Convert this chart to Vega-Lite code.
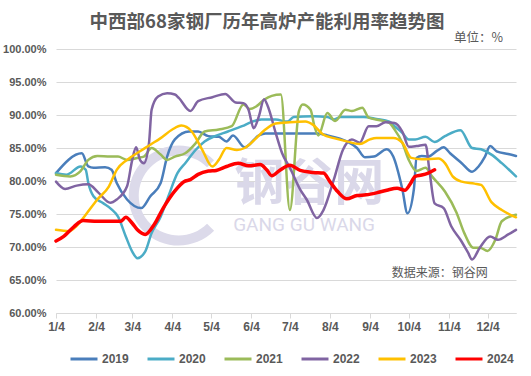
{
  "$schema": "https://vega.github.io/schema/vega-lite/v6.json",
  "width": 460,
  "height": 264,
  "autosize": {"type": "none"},
  "padding": {"left": 56, "top": 49, "right": 15, "bottom": 63},
  "background": "white",
  "title": {"text": "中西部68家钢厂历年高炉产能利用率趋势图", "font": "Noto Sans CJK SC", "fontSize": 18.5, "fontWeight": "bold", "color": "#595959", "anchor": "middle", "dx": -19, "offset": 0},
  "config": {
    "view": {"stroke": null},
    "font": "Liberation Sans",
    "axisX": {"grid": false, "domainColor": "#D9D9D9", "tickColor": "#D9D9D9", "tickSize": 5, "labelFont": "Liberation Sans", "labelFontSize": 12, "labelFontWeight": "bold", "labelColor": "#595959", "labelPadding": 3, "labelFlush": false, "labelOverlap": false, "labelAlign": "center"},
    "axisY": {"ticks": false, "domain": false, "grid": true, "gridColor": "#D9D9D9", "gridWidth": 1, "labelFont": "Liberation Sans", "labelFontSize": 11, "labelFontWeight": "bold", "labelColor": "#595959", "labelPadding": 10, "labelOverlap": false}
  },
  "data": {
    "values": [
      {"year":"2019","date":"01/04","value":81.2},{"year":"2019","date":"01/24","value":84.2},{"year":"2019","date":"01/29","value":82.2},{"year":"2019","date":"02/02","value":82.0},{"year":"2019","date":"02/11","value":82.1},{"year":"2019","date":"02/16","value":81.7},{"year":"2019","date":"02/20","value":79.7},{"year":"2019","date":"02/28","value":77.2},{"year":"2019","date":"03/11","value":75.9},{"year":"2019","date":"03/18","value":77.7},{"year":"2019","date":"03/26","value":79.7},{"year":"2019","date":"03/31","value":83.7},{"year":"2019","date":"04/06","value":86.3},{"year":"2019","date":"04/17","value":87.5},{"year":"2019","date":"04/24","value":87.5},{"year":"2019","date":"05/02","value":86.8},{"year":"2019","date":"05/10","value":86.7},{"year":"2019","date":"05/16","value":86.0},{"year":"2019","date":"05/21","value":86.9},{"year":"2019","date":"05/30","value":85.1},{"year":"2019","date":"06/10","value":86.9},{"year":"2019","date":"06/15","value":87.2},{"year":"2019","date":"07/04","value":87.2},{"year":"2019","date":"07/25","value":87.2},{"year":"2019","date":"08/02","value":86.9},{"year":"2019","date":"08/17","value":86.0},{"year":"2019","date":"08/25","value":85.0},{"year":"2019","date":"08/31","value":83.6},{"year":"2019","date":"09/07","value":83.7},{"year":"2019","date":"09/17","value":84.8},{"year":"2019","date":"09/22","value":83.7},{"year":"2019","date":"09/29","value":78.8},{"year":"2019","date":"10/03","value":75.1},{"year":"2019","date":"10/08","value":78.8},{"year":"2019","date":"10/10","value":83.5},{"year":"2019","date":"10/14","value":83.8},{"year":"2019","date":"10/19","value":83.7},{"year":"2019","date":"10/26","value":84.6},{"year":"2019","date":"10/31","value":85.1},{"year":"2019","date":"11/05","value":84.2},{"year":"2019","date":"11/14","value":82.7},{"year":"2019","date":"11/22","value":81.4},{"year":"2019","date":"11/27","value":82.2},{"year":"2019","date":"12/02","value":83.7},{"year":"2019","date":"12/06","value":85.3},{"year":"2019","date":"12/11","value":84.5},{"year":"2019","date":"12/20","value":84.1},{"year":"2019","date":"12/26","value":83.8},
      {"year":"2020","date":"01/04","value":81.2},{"year":"2020","date":"01/12","value":80.95},{"year":"2020","date":"01/23","value":82.2},{"year":"2020","date":"01/27","value":81.7},{"year":"2020","date":"01/29","value":79.7},{"year":"2020","date":"02/02","value":77.7},{"year":"2020","date":"02/09","value":76.7},{"year":"2020","date":"02/16","value":75.7},{"year":"2020","date":"02/21","value":74.6},{"year":"2020","date":"02/27","value":71.6},{"year":"2020","date":"03/04","value":69.3},{"year":"2020","date":"03/08","value":68.3},{"year":"2020","date":"03/14","value":69.3},{"year":"2020","date":"03/19","value":72.1},{"year":"2020","date":"03/26","value":74.6},{"year":"2020","date":"04/01","value":77.7},{"year":"2020","date":"04/08","value":81.2},{"year":"2020","date":"04/14","value":82.7},{"year":"2020","date":"04/22","value":84.7},{"year":"2020","date":"04/29","value":86.0},{"year":"2020","date":"05/07","value":86.8},{"year":"2020","date":"05/17","value":87.5},{"year":"2020","date":"05/28","value":88.3},{"year":"2020","date":"06/05","value":89.0},{"year":"2020","date":"06/12","value":89.3},{"year":"2020","date":"06/23","value":89.3},{"year":"2020","date":"07/02","value":89.0},{"year":"2020","date":"07/07","value":89.7},{"year":"2020","date":"07/22","value":89.8},{"year":"2020","date":"08/02","value":89.7},{"year":"2020","date":"08/07","value":89.3},{"year":"2020","date":"08/12","value":89.7},{"year":"2020","date":"08/30","value":89.7},{"year":"2020","date":"09/09","value":89.4},{"year":"2020","date":"09/19","value":89.0},{"year":"2020","date":"09/23","value":88.3},{"year":"2020","date":"09/29","value":87.3},{"year":"2020","date":"10/04","value":86.3},{"year":"2020","date":"10/09","value":86.3},{"year":"2020","date":"10/17","value":86.7},{"year":"2020","date":"10/24","value":85.9},{"year":"2020","date":"11/01","value":86.8},{"year":"2020","date":"11/13","value":87.7},{"year":"2020","date":"11/22","value":85.0},{"year":"2020","date":"11/29","value":84.8},{"year":"2020","date":"12/07","value":84.0},{"year":"2020","date":"12/15","value":82.7},{"year":"2020","date":"12/26","value":80.7},
      {"year":"2021","date":"01/04","value":80.95},{"year":"2021","date":"01/15","value":80.7},{"year":"2021","date":"01/23","value":81.5},{"year":"2021","date":"01/29","value":83.2},{"year":"2021","date":"02/05","value":83.8},{"year":"2021","date":"02/15","value":83.7},{"year":"2021","date":"02/21","value":83.7},{"year":"2021","date":"02/28","value":83.2},{"year":"2021","date":"03/08","value":83.5},{"year":"2021","date":"03/13","value":83.7},{"year":"2021","date":"03/19","value":85.0},{"year":"2021","date":"03/26","value":84.0},{"year":"2021","date":"03/31","value":83.2},{"year":"2021","date":"04/06","value":83.7},{"year":"2021","date":"04/14","value":84.2},{"year":"2021","date":"04/22","value":85.7},{"year":"2021","date":"04/29","value":87.5},{"year":"2021","date":"05/10","value":87.8},{"year":"2021","date":"05/20","value":88.3},{"year":"2021","date":"05/29","value":91.6},{"year":"2021","date":"06/03","value":90.9},{"year":"2021","date":"06/08","value":91.3},{"year":"2021","date":"06/14","value":92.3},{"year":"2021","date":"06/20","value":92.9},{"year":"2021","date":"06/27","value":93.1},{"year":"2021","date":"07/04","value":75.6},{"year":"2021","date":"07/11","value":90.6},{"year":"2021","date":"07/14","value":91.6},{"year":"2021","date":"07/20","value":90.8},{"year":"2021","date":"07/23","value":88.3},{"year":"2021","date":"07/26","value":86.9},{"year":"2021","date":"08/02","value":90.3},{"year":"2021","date":"08/08","value":89.1},{"year":"2021","date":"08/16","value":90.8},{"year":"2021","date":"08/21","value":90.6},{"year":"2021","date":"08/29","value":91.1},{"year":"2021","date":"09/03","value":89.6},{"year":"2021","date":"09/12","value":89.2},{"year":"2021","date":"09/19","value":88.8},{"year":"2021","date":"09/23","value":87.8},{"year":"2021","date":"09/29","value":85.8},{"year":"2021","date":"10/04","value":83.2},{"year":"2021","date":"10/10","value":81.5},{"year":"2021","date":"10/17","value":82.0},{"year":"2021","date":"10/22","value":80.7},{"year":"2021","date":"11/01","value":78.4},{"year":"2021","date":"11/10","value":75.2},{"year":"2021","date":"11/16","value":72.1},{"year":"2021","date":"11/23","value":69.9},{"year":"2021","date":"11/28","value":69.9},{"year":"2021","date":"12/04","value":69.4},{"year":"2021","date":"12/10","value":71.1},{"year":"2021","date":"12/15","value":73.9},{"year":"2021","date":"12/26","value":74.9},
      {"year":"2022","date":"01/04","value":79.9},{"year":"2022","date":"01/11","value":78.8},{"year":"2022","date":"01/20","value":79.3},{"year":"2022","date":"01/29","value":79.5},{"year":"2022","date":"02/06","value":78.2},{"year":"2022","date":"02/15","value":76.7},{"year":"2022","date":"02/20","value":77.2},{"year":"2022","date":"02/28","value":79.2},{"year":"2022","date":"03/04","value":83.2},{"year":"2022","date":"03/07","value":85.1},{"year":"2022","date":"03/10","value":83.2},{"year":"2022","date":"03/13","value":82.7},{"year":"2022","date":"03/17","value":85.8},{"year":"2022","date":"03/19","value":90.8},{"year":"2022","date":"03/24","value":92.8},{"year":"2022","date":"03/31","value":93.3},{"year":"2022","date":"04/06","value":93.1},{"year":"2022","date":"04/09","value":92.6},{"year":"2022","date":"04/18","value":90.6},{"year":"2022","date":"04/24","value":92.1},{"year":"2022","date":"05/05","value":92.7},{"year":"2022","date":"05/15","value":93.2},{"year":"2022","date":"05/23","value":91.9},{"year":"2022","date":"05/29","value":91.8},{"year":"2022","date":"06/02","value":90.8},{"year":"2022","date":"06/06","value":88.0},{"year":"2022","date":"06/10","value":89.8},{"year":"2022","date":"06/14","value":92.4},{"year":"2022","date":"06/17","value":91.3},{"year":"2022","date":"06/23","value":87.3},{"year":"2022","date":"06/28","value":84.2},{"year":"2022","date":"07/04","value":82.0},{"year":"2022","date":"07/12","value":78.7},{"year":"2022","date":"07/17","value":77.2},{"year":"2022","date":"07/25","value":74.4},{"year":"2022","date":"07/30","value":75.6},{"year":"2022","date":"08/07","value":80.2},{"year":"2022","date":"08/14","value":84.7},{"year":"2022","date":"08/21","value":86.3},{"year":"2022","date":"08/27","value":85.8},{"year":"2022","date":"09/03","value":88.3},{"year":"2022","date":"09/09","value":88.3},{"year":"2022","date":"09/16","value":88.9},{"year":"2022","date":"09/23","value":88.8},{"year":"2022","date":"09/29","value":87.5},{"year":"2022","date":"10/04","value":85.2},{"year":"2022","date":"10/10","value":85.3},{"year":"2022","date":"10/17","value":85.5},{"year":"2022","date":"10/20","value":81.6},{"year":"2022","date":"10/24","value":76.6},{"year":"2022","date":"10/31","value":75.9},{"year":"2022","date":"11/06","value":73.1},{"year":"2022","date":"11/13","value":71.1},{"year":"2022","date":"11/19","value":69.1},{"year":"2022","date":"11/22","value":68.1},{"year":"2022","date":"11/28","value":69.9},{"year":"2022","date":"12/06","value":71.6},{"year":"2022","date":"12/12","value":71.1},{"year":"2022","date":"12/20","value":71.9},{"year":"2022","date":"12/26","value":72.6},
      {"year":"2023","date":"01/04","value":72.6},{"year":"2023","date":"01/14","value":72.4},{"year":"2023","date":"01/20","value":73.2},{"year":"2023","date":"01/27","value":74.9},{"year":"2023","date":"02/05","value":77.2},{"year":"2023","date":"02/14","value":79.2},{"year":"2023","date":"02/20","value":81.7},{"year":"2023","date":"02/28","value":83.2},{"year":"2023","date":"03/10","value":84.5},{"year":"2023","date":"03/18","value":85.5},{"year":"2023","date":"03/26","value":86.5},{"year":"2023","date":"04/04","value":87.8},{"year":"2023","date":"04/11","value":88.4},{"year":"2023","date":"04/19","value":87.5},{"year":"2023","date":"04/27","value":84.8},{"year":"2023","date":"05/05","value":82.2},{"year":"2023","date":"05/10","value":83.2},{"year":"2023","date":"05/16","value":85.0},{"year":"2023","date":"05/24","value":84.7},{"year":"2023","date":"05/30","value":85.0},{"year":"2023","date":"06/07","value":86.3},{"year":"2023","date":"06/15","value":87.8},{"year":"2023","date":"06/23","value":88.7},{"year":"2023","date":"07/04","value":88.9},{"year":"2023","date":"07/16","value":89.0},{"year":"2023","date":"07/22","value":88.5},{"year":"2023","date":"07/30","value":87.0},{"year":"2023","date":"08/07","value":86.5},{"year":"2023","date":"08/17","value":86.0},{"year":"2023","date":"08/27","value":85.6},{"year":"2023","date":"09/04","value":86.3},{"year":"2023","date":"09/09","value":86.5},{"year":"2023","date":"09/22","value":86.5},{"year":"2023","date":"09/29","value":85.8},{"year":"2023","date":"10/06","value":83.5},{"year":"2023","date":"10/14","value":83.3},{"year":"2023","date":"10/27","value":83.4},{"year":"2023","date":"11/01","value":82.7},{"year":"2023","date":"11/07","value":80.7},{"year":"2023","date":"11/14","value":79.9},{"year":"2023","date":"11/24","value":79.6},{"year":"2023","date":"11/29","value":79.4},{"year":"2023","date":"12/07","value":76.8},{"year":"2023","date":"12/15","value":75.6},{"year":"2023","date":"12/26","value":74.5},
      {"year":"2024","date":"01/04","value":70.9},{"year":"2024","date":"01/10","value":71.6},{"year":"2024","date":"01/18","value":73.1},{"year":"2024","date":"01/25","value":74.0},{"year":"2024","date":"02/05","value":73.9},{"year":"2024","date":"02/15","value":73.9},{"year":"2024","date":"02/23","value":73.9},{"year":"2024","date":"02/27","value":74.5},{"year":"2024","date":"03/04","value":73.6},{"year":"2024","date":"03/08","value":72.6},{"year":"2024","date":"03/14","value":71.9},{"year":"2024","date":"03/21","value":73.4},{"year":"2024","date":"03/28","value":75.9},{"year":"2024","date":"04/06","value":78.5},{"year":"2024","date":"04/13","value":79.9},{"year":"2024","date":"04/18","value":80.2},{"year":"2024","date":"04/24","value":81.0},{"year":"2024","date":"05/02","value":81.5},{"year":"2024","date":"05/08","value":81.6},{"year":"2024","date":"05/16","value":82.2},{"year":"2024","date":"05/25","value":82.7},{"year":"2024","date":"06/02","value":82.3},{"year":"2024","date":"06/11","value":82.5},{"year":"2024","date":"06/16","value":81.7},{"year":"2024","date":"06/20","value":80.8},{"year":"2024","date":"06/26","value":81.6},{"year":"2024","date":"07/04","value":82.4},{"year":"2024","date":"07/12","value":81.6},{"year":"2024","date":"07/22","value":81.3},{"year":"2024","date":"07/30","value":81.2},{"year":"2024","date":"08/04","value":79.9},{"year":"2024","date":"08/10","value":78.4},{"year":"2024","date":"08/17","value":77.3},{"year":"2024","date":"08/25","value":77.8},{"year":"2024","date":"09/01","value":77.9},{"year":"2024","date":"09/09","value":78.2},{"year":"2024","date":"09/17","value":78.6},{"year":"2024","date":"09/25","value":78.9},{"year":"2024","date":"10/01","value":78.6},{"year":"2024","date":"10/05","value":79.5},{"year":"2024","date":"10/09","value":80.7},{"year":"2024","date":"10/14","value":80.9},{"year":"2024","date":"10/19","value":81.2},{"year":"2024","date":"10/24","value":81.7}
    ],
    "format": {"parse": {"date": "date:'%m/%d'"}}
  },
  "layer": [
    {
      "data": {"values": [{}]},
      "mark": {"type": "point", "shape": "M 0.707,-0.707 A 1,1 0 1,0 0.707,0.707 L 0.566,0.566 A 0.8,0.8 0 1,1 0.566,-0.566 Z", "filled": true, "color": "#DCDAEA", "opacity": 1, "size": 10000, "strokeWidth": 0},
      "encoding": {
        "x": {"datum": {"year": 1900, "month": 4, "date": 9}, "type": "temporal", "scale": {"domain": [{"year": 1900, "month": 1, "date": 4}, {"year": 1900, "month": 12, "date": 26}]}, "axis": {"values": [{"year":1900,"month":1,"date":4},{"year":1900,"month":2,"date":4},{"year":1900,"month":3,"date":4},{"year":1900,"month":4,"date":4},{"year":1900,"month":5,"date":4},{"year":1900,"month":6,"date":4},{"year":1900,"month":7,"date":4},{"year":1900,"month":8,"date":4},{"year":1900,"month":9,"date":4},{"year":1900,"month":10,"date":4},{"year":1900,"month":11,"date":4},{"year":1900,"month":12,"date":4}], "format": "%-m/%-d", "title": null}},
        "y": {"datum": 77.8, "type": "quantitative", "scale": {"domain": [60, 100]}, "axis": {"values": [60, 65, 70, 75, 80, 85, 90, 95, 100], "labelExpr": "format(datum.value, '.2f') + '%'", "title": null}}
      }
    },
    {
      "data": {"values": [{}]},
      "mark": {"type": "text", "text": "钢谷网", "font": "Noto Sans CJK SC", "fontSize": 50, "fontWeight": "bold", "color": "#DAD8E9", "align": "center", "baseline": "middle"},
      "encoding": {
        "x": {"datum": {"year": 1900, "month": 7, "date": 19}, "type": "temporal", "scale": {"domain": [{"year": 1900, "month": 1, "date": 4}, {"year": 1900, "month": 12, "date": 26}]}, "axis": {"values": [{"year":1900,"month":1,"date":4},{"year":1900,"month":2,"date":4},{"year":1900,"month":3,"date":4},{"year":1900,"month":4,"date":4},{"year":1900,"month":5,"date":4},{"year":1900,"month":6,"date":4},{"year":1900,"month":7,"date":4},{"year":1900,"month":8,"date":4},{"year":1900,"month":9,"date":4},{"year":1900,"month":10,"date":4},{"year":1900,"month":11,"date":4},{"year":1900,"month":12,"date":4}], "format": "%-m/%-d", "title": null}},
        "y": {"datum": 79.4, "type": "quantitative", "scale": {"domain": [60, 100]}, "axis": {"values": [60, 65, 70, 75, 80, 85, 90, 95, 100], "labelExpr": "format(datum.value, '.2f') + '%'", "title": null}}
      }
    },
    {
      "data": {"values": [{}]},
      "mark": {"type": "text", "text": "GANG GU WANG", "font": "Roboto", "fontSize": 19, "color": "#DAD8E9", "align": "center", "baseline": "middle"},
      "encoding": {
        "x": {"datum": {"year": 1900, "month": 7, "date": 15}, "type": "temporal", "scale": {"domain": [{"year": 1900, "month": 1, "date": 4}, {"year": 1900, "month": 12, "date": 26}]}, "axis": {"values": [{"year":1900,"month":1,"date":4},{"year":1900,"month":2,"date":4},{"year":1900,"month":3,"date":4},{"year":1900,"month":4,"date":4},{"year":1900,"month":5,"date":4},{"year":1900,"month":6,"date":4},{"year":1900,"month":7,"date":4},{"year":1900,"month":8,"date":4},{"year":1900,"month":9,"date":4},{"year":1900,"month":10,"date":4},{"year":1900,"month":11,"date":4},{"year":1900,"month":12,"date":4}], "format": "%-m/%-d", "title": null}},
        "y": {"datum": 73.3, "type": "quantitative", "scale": {"domain": [60, 100]}, "axis": {"values": [60, 65, 70, 75, 80, 85, 90, 95, 100], "labelExpr": "format(datum.value, '.2f') + '%'", "title": null}}
      }
    },
    {
      "data": {"values": [{}]},
      "mark": {"type": "text", "text": "数据来源：钢谷网", "font": "Noto Sans CJK SC", "fontSize": 12, "color": "#595959", "align": "center", "baseline": "middle"},
      "encoding": {
        "x": {"datum": {"year": 1900, "month": 10, "date": 28}, "type": "temporal", "scale": {"domain": [{"year": 1900, "month": 1, "date": 4}, {"year": 1900, "month": 12, "date": 26}]}, "axis": {"values": [{"year":1900,"month":1,"date":4},{"year":1900,"month":2,"date":4},{"year":1900,"month":3,"date":4},{"year":1900,"month":4,"date":4},{"year":1900,"month":5,"date":4},{"year":1900,"month":6,"date":4},{"year":1900,"month":7,"date":4},{"year":1900,"month":8,"date":4},{"year":1900,"month":9,"date":4},{"year":1900,"month":10,"date":4},{"year":1900,"month":11,"date":4},{"year":1900,"month":12,"date":4}], "format": "%-m/%-d", "title": null}},
        "y": {"datum": 66.06, "type": "quantitative", "scale": {"domain": [60, 100]}, "axis": {"values": [60, 65, 70, 75, 80, 85, 90, 95, 100], "labelExpr": "format(datum.value, '.2f') + '%'", "title": null}}
      }
    },
    {
      "data": {"values": [{}]},
      "mark": {"type": "text", "text": "单位：%", "font": "Noto Sans CJK SC", "fontSize": 12.5, "color": "#595959", "align": "right", "baseline": "middle"},
      "encoding": {
        "x": {"datum": {"year": 1900, "month": 12, "date": 16}, "type": "temporal", "scale": {"domain": [{"year": 1900, "month": 1, "date": 4}, {"year": 1900, "month": 12, "date": 26}]}, "axis": {"values": [{"year":1900,"month":1,"date":4},{"year":1900,"month":2,"date":4},{"year":1900,"month":3,"date":4},{"year":1900,"month":4,"date":4},{"year":1900,"month":5,"date":4},{"year":1900,"month":6,"date":4},{"year":1900,"month":7,"date":4},{"year":1900,"month":8,"date":4},{"year":1900,"month":9,"date":4},{"year":1900,"month":10,"date":4},{"year":1900,"month":11,"date":4},{"year":1900,"month":12,"date":4}], "format": "%-m/%-d", "title": null}},
        "y": {"datum": 101.7, "type": "quantitative", "scale": {"domain": [60, 100]}, "axis": {"values": [60, 65, 70, 75, 80, 85, 90, 95, 100], "labelExpr": "format(datum.value, '.2f') + '%'", "title": null}}
      }
    },
    {
      "mark": {"type": "line", "interpolate": "monotone", "strokeCap": "round", "strokeJoin": "round"},
      "encoding": {
        "x": {"field": "date", "type": "temporal", "scale": {"domain": [{"year": 1900, "month": 1, "date": 4}, {"year": 1900, "month": 12, "date": 26}]}, "axis": {"values": [{"year":1900,"month":1,"date":4},{"year":1900,"month":2,"date":4},{"year":1900,"month":3,"date":4},{"year":1900,"month":4,"date":4},{"year":1900,"month":5,"date":4},{"year":1900,"month":6,"date":4},{"year":1900,"month":7,"date":4},{"year":1900,"month":8,"date":4},{"year":1900,"month":9,"date":4},{"year":1900,"month":10,"date":4},{"year":1900,"month":11,"date":4},{"year":1900,"month":12,"date":4}], "format": "%-m/%-d", "title": null}},
        "y": {"field": "value", "type": "quantitative", "scale": {"domain": [60, 100]}, "axis": {"values": [60, 65, 70, 75, 80, 85, 90, 95, 100], "labelExpr": "format(datum.value, '.2f') + '%'", "title": null}},
        "color": {
          "field": "year", "type": "nominal",
          "scale": {"domain": ["2019", "2020", "2021", "2022", "2023", "2024"], "range": ["#4A7EBB", "#4BACC6", "#9BBB59", "#8064A2", "#FFC000", "#FF0000"]},
          "legend": {
            "title": null, "orient": "none", "direction": "horizontal", "legendX": 13, "legendY": 295,
            "symbolType": "stroke", "symbolSize": 729, "symbolStrokeWidth": 3,
            "labelFont": "Liberation Sans", "labelFontSize": 12, "labelFontWeight": "bold", "labelColor": "#595959",
            "labelOffset": 3, "columnPadding": 12, "padding": 0
          }
        },
        "strokeWidth": {"condition": {"test": "datum.year === '2024'", "value": 3.5}, "value": 2.5}
      }
    }
  ]
}
